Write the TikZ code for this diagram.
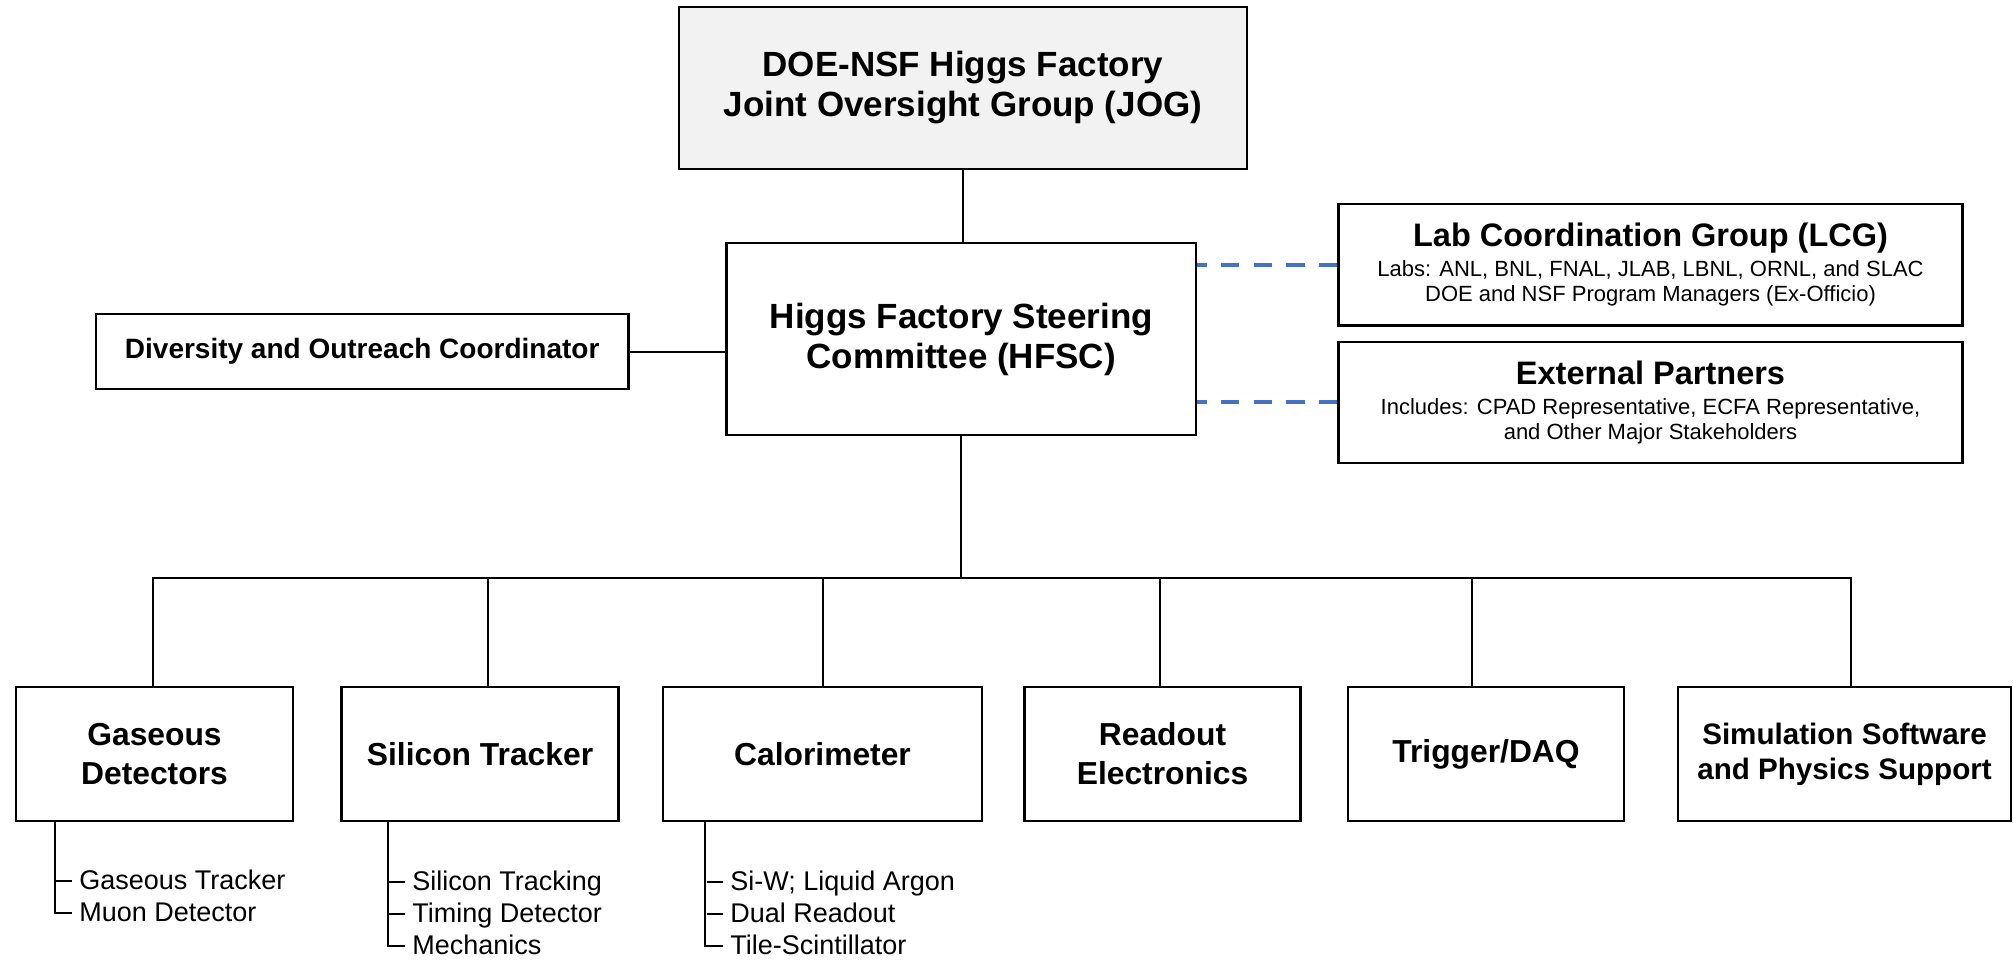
\documentclass[tikz,border=0pt]{standalone}
\usepackage{fontspec}
\setmainfont{Liberation Sans}
\usetikzlibrary{calc}
\definecolor{dashblue}{HTML}{4472C4}
\definecolor{joggray}{HTML}{F2F2F2}
\begin{document}
\begin{tikzpicture}[x=0.5pt,y=-0.5pt,
  box/.style={draw=black, line width=1.1pt, fill=white, inner sep=0pt, align=center},
  bigtext/.style={font=\bfseries\fontsize{17.5}{20}\selectfont},
  subbox/.style={box, minimum height=67pt, font=\bfseries\fontsize{15.9}{19.5}\selectfont},
  conn/.style={draw=black, line width=1pt},
  dashlink/.style={draw=dashblue, line width=2pt, dash pattern=on 9.25pt off 7.1pt},
  item/.style={inner sep=0pt, anchor=west, text height=9.7pt, text depth=0pt, font=\fontsize{13.5}{16}\selectfont}
]
\useasboundingbox (0,0) rectangle (2013,963);

% top
\node[box, bigtext, fill=joggray, minimum width=284pt, minimum height=81.3pt] (jog) at (963,88) {DOE-NSF Higgs Factory\\Joint Oversight Group (JOG)};
\node[box, bigtext, minimum width=234.75pt, minimum height=95.85pt] (hfsc) at (961.3,339.2) {Higgs Factory Steering\\Committee (HFSC)};

\node[box, minimum width=312pt, minimum height=60.75pt, font=\fontsize{11}{12.5}\selectfont] (lcg) at (1650.5,264.75)
  {{\bfseries\fontsize{16.25}{16.25}\selectfont Lab Coordination Group (LCG)}\\[2.4pt]Labs: ANL, BNL, FNAL, JLAB, LBNL, ORNL, and SLAC\\DOE and NSF Program Managers (Ex-Officio)};
\node[box, minimum width=312pt, minimum height=60.5pt, font=\fontsize{11}{12.5}\selectfont] (ext) at (1650.5,402.2)
  {{\bfseries\fontsize{16.25}{16.25}\selectfont External Partners}\\[2.4pt]Includes: CPAD Representative, ECFA Representative,\\and Other Major Stakeholders};

\node[box, minimum width=266.2pt, minimum height=37.5pt, font=\bfseries\fontsize{14}{16}\selectfont] (div) at (362.2,351.5) {Diversity and Outreach Coordinator};

% bottom row
\node[subbox, minimum width=138.5pt] (gas) at (154.5,754) {Gaseous\\Detectors};
\node[subbox, minimum width=138.5pt] (sil) at (480,754) {Silicon Tracker};
\node[subbox, minimum width=159.5pt] (cal) at (822.5,754) {Calorimeter};
\node[subbox, minimum width=138pt] (read) at (1162.5,754) {Readout\\Electronics};
\node[subbox, minimum width=138pt] (trig) at (1486,754) {Trigger/DAQ};
\node[subbox, minimum width=166.5pt, font=\bfseries\fontsize{14.8}{17.5}\selectfont] (sim) at (1844.5,754) {Simulation Software\\and Physics Support};

% connectors
\draw[conn] (jog.south) -- (jog.south |- hfsc.north);
\draw[conn] (div.east) -- (div.east -| hfsc.west);
\draw[dashlink] (lcg.west) -- (lcg.west -| hfsc.east);
\draw[dashlink] (ext.west) -- (ext.west -| hfsc.east);

\coordinate (bus) at (961.3,577.5);
\draw[conn] (hfsc.south) -- (bus);
\draw[conn] ($(gas.north)+(-1.5,0)$) |- (bus) -| ($(sim.north)+(6.5,0)$);
\draw[conn] ($(sil.north)+(8,0)$) -- ($(sil.north |- bus)+(8,0)$);
\draw[conn] (cal.north) -- (cal.north |- bus);
\draw[conn] ($(read.north)+(-2.5,0)$) -- ($(read.north |- bus)+(-2.5,0)$);
\draw[conn] ($(trig.north)+(-14,0)$) -- ($(trig.north |- bus)+(-14,0)$);

% sub-item lists
\coordinate (gasT) at ($(gas.south west)+(40,0)$);
\node[item] (gas1) at (79,880) {Gaseous Tracker};
\node[item] (gas2) at (79,912) {Muon Detector};
\draw[conn] ($(gas1.west)+(-23,1)$) -- ($(gas1.west)+(-7,1)$);
\draw[conn] (gasT) |- ($(gas2.west)+(-7,1)$);

\coordinate (silT) at ($(sil.south west)+(47.5,0)$);
\node[item] (sil1) at (412,881) {Silicon Tracking};
\node[item] (sil2) at (412,913) {Timing Detector};
\node[item] (sil3) at (412,945) {Mechanics};
\draw[conn] ($(sil1.west)+(-23,1)$) -- ($(sil1.west)+(-7,1)$);
\draw[conn] ($(sil2.west)+(-23,1)$) -- ($(sil2.west)+(-7,1)$);
\draw[conn] (silT) |- ($(sil3.west)+(-7,1)$);

\coordinate (calT) at ($(cal.south west)+(43.5,0)$);
\node[item] (cal1) at (730,881) {Si-W; Liquid Argon};
\node[item] (cal2) at (730,913) {Dual Readout};
\node[item] (cal3) at (730,945) {Tile-Scintillator};
\draw[conn] ($(cal1.west)+(-23,1)$) -- ($(cal1.west)+(-7,1)$);
\draw[conn] ($(cal2.west)+(-23,1)$) -- ($(cal2.west)+(-7,1)$);
\draw[conn] (calT) |- ($(cal3.west)+(-7,1)$);
\end{tikzpicture}
\end{document}
